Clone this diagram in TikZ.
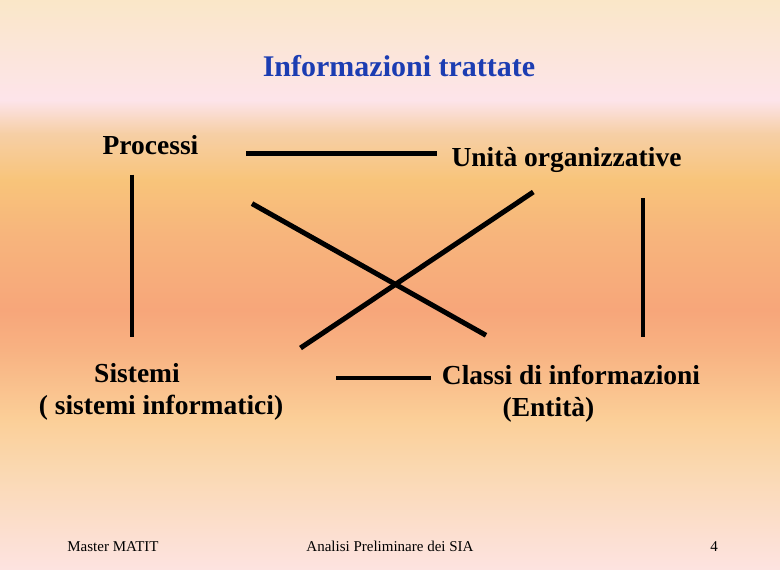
\documentclass[tikz,border=0pt]{standalone}
\usepackage{fontspec}
\setmainfont{Liberation Serif}
\definecolor{titleblue}{HTML}{1C3DB2}
\definecolor{bgA}{HTML}{FAE7C8}
\definecolor{bgB}{HTML}{FDE4EA}
\definecolor{bgC}{HTML}{F6CFA6}
\definecolor{bgD}{HTML}{F8C47A}
\definecolor{bgE}{HTML}{F7B57C}
\definecolor{bgF}{HTML}{F7A67A}
\definecolor{bgG}{HTML}{F8B282}
\definecolor{bgH}{HTML}{FBCF98}
\definecolor{bgI}{HTML}{FAD8B0}
\definecolor{bgJ}{HTML}{FCDFD0}
\definecolor{bgK}{HTML}{FDE3E0}
\begin{document}
\begin{tikzpicture}[x=1pt,y=-1pt,
  lbl/.style={inner sep=0pt,anchor=base,font=\fontsize{27.5}{33}\selectfont\bfseries},
  ttl/.style={inner sep=0pt,anchor=base,text=titleblue,font=\fontsize{30}{36}\selectfont\bfseries},
  foot/.style={inner sep=0pt,anchor=base,font=\fontsize{15}{18}\selectfont},
  link/.style={line width=4.6pt}]
\useasboundingbox (0,0) rectangle (780,570);
% background gradient bands
\shade[top color=bgA,bottom color=bgB] (0,0) rectangle (780,100.5);
\shade[top color=bgB,bottom color=bgC] (0,100) rectangle (780,133.5);
\shade[top color=bgC,bottom color=bgD] (0,133) rectangle (780,180.5);
\shade[top color=bgD,bottom color=bgE] (0,180) rectangle (780,233.5);
\shade[top color=bgE,bottom color=bgF] (0,233) rectangle (780,310.5);
\shade[top color=bgF,bottom color=bgG] (0,310) rectangle (780,350.5);
\shade[top color=bgG,bottom color=bgH] (0,350) rectangle (780,420.5);
\shade[top color=bgH,bottom color=bgI] (0,420) rectangle (780,467.5);
\shade[top color=bgI,bottom color=bgJ] (0,467) rectangle (780,533.5);
\shade[top color=bgJ,bottom color=bgK] (0,533) rectangle (780,570);
% texts
\node[ttl] (title) at (399,76) {Informazioni trattate};
\node[lbl] (proc) at (150.5,154.5) {Processi};
\node[lbl] (unita) at (566.5,166.5) {Unità organizzative};
\node[lbl] (sist) at (137,382.5) {Sistemi};
\node[lbl] (sisti) at (161,414.5) {( sistemi informatici)};
\node[lbl] (classi) at (571,384.5) {Classi di informazioni};
\node[lbl] (entita) at (548.5,416.5) {(Entità)};
\node[foot] (f1) at (113,551) {Master MATIT};
\node[foot] (f2) at (390,551) {Analisi Preliminare dei SIA};
\node[foot] (f3) at (714,551) {4};
% connector end points
\coordinate (pu1) at (246,153.3);
\coordinate (pu2) at (437,153.3);
\coordinate (ps1) at (132.3,174.5);
\coordinate (ps2) at (132.3,336.5);
\coordinate (uc1) at (642.8,198);
\coordinate (uc2) at (642.8,336.5);
\coordinate (pc1) at (252,203.6);
\coordinate (pc2) at (486,335.3);
\coordinate (us1) at (533.3,192);
\coordinate (us2) at (300.5,348);
\coordinate (sc1) at (336,378);
\coordinate (sc2) at (431,378);
% connectors
\draw[link] (pu1) -- (pu2);
\draw[link,line width=4pt] (ps1) -- (ps2);
\draw[link,line width=4pt] (uc1) -- (uc2);
\draw[link,line width=5pt] (pc1) -- (pc2);
\draw[link,line width=5pt] (us1) -- (us2);
\draw[link] (sc1) -- (sc2);
\end{tikzpicture}
\end{document}
